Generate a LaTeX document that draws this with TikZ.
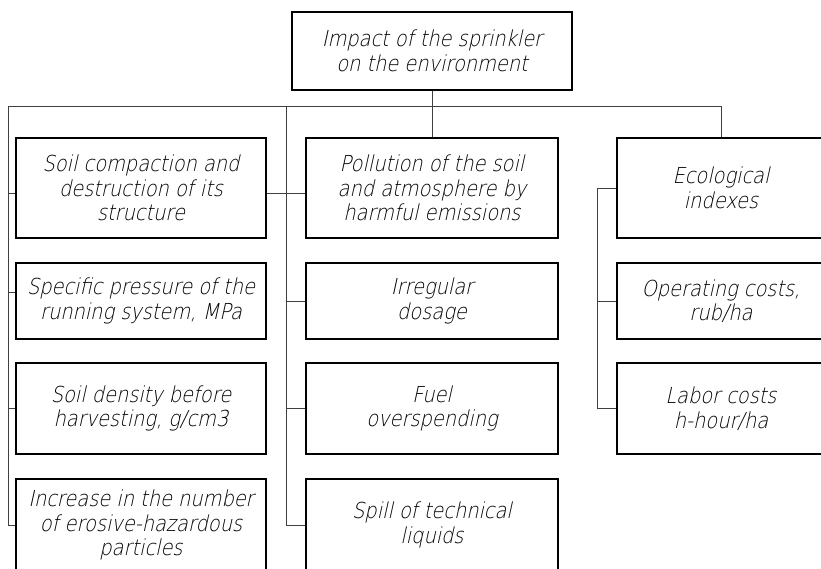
\documentclass[tikz,border=0pt]{standalone}
\usepackage{fontspec}
\IfFontExistsTF{DejaVu Sans ExtraLight}
  {\setmainfont{DejaVu Sans ExtraLight}[FakeSlant=0.22,FakeStretch=0.88]}
  {\setmainfont{DejaVu Sans}[FakeSlant=0.22,FakeStretch=0.88]}
\begin{document}
\begin{tikzpicture}[x=1pt,y=-1pt,
  box/.style={draw=black,line width=1.4pt,align=center,inner sep=0pt,
    font=\fontsize{22}{24.5}\selectfont},
  conn/.style={draw=black!75,line width=0.6pt}]
\useasboundingbox (0,0) rectangle (821,568);
\clip (0,0) rectangle (821,568);
% boxes
\node[box,minimum width=280pt,minimum height=78pt] (top) at (432,51) {Impact of the sprinkler\\on the environment};
\node[box,minimum width=250pt,minimum height=100pt] (L1) at (141,188) {Soil compaction and\\destruction of its\\structure};
\node[box,minimum width=250pt,minimum height=76pt] (L2) at (141,301) {Specific pressure of the\\running system, MPa};
\node[box,minimum width=250pt,minimum height=91pt] (L3) at (141,408.5) {Soil density before\\harvesting, g/cm3};
\node[box,minimum width=250pt,minimum height=92pt] (L4) at (141,525) {Increase in the number\\of erosive-hazardous\\particles};
\node[box,minimum width=252pt,minimum height=100pt] (M1) at (432,188) {Pollution of the soil\\and atmosphere by\\harmful emissions};
\node[box,minimum width=252pt,minimum height=76pt] (M2) at (432,301) {Irregular\\dosage};
\node[box,minimum width=252pt,minimum height=91pt] (M3) at (432,408.5) {Fuel\\overspending};
\node[box,minimum width=252pt,minimum height=92pt] (M4) at (432,525) {Spill of technical\\liquids};
\node[box,minimum width=208pt,minimum height=100pt] (R1) at (721,188) {Ecological\\indexes};
\node[box,minimum width=208pt,minimum height=76pt] (R2) at (721,301) {Operating costs,\\rub/ha};
\node[box,minimum width=208pt,minimum height=91pt] (R3) at (721,408.5) {Labor costs\\h-hour/ha};
% bus
\coordinate (busL) at (8,106);
\coordinate (busM) at (286,106);
\coordinate (busR) at (721,106);
\coordinate (rv) at (597,188);
\draw[conn] (top.south) -- (top.south |- busL);
\draw[conn] (busL) -- (busR) -- (R1.north);
\draw[conn] (M1.north |- busL) -- (M1.north);
% left column
\draw[conn] (busL) |- (L4.west);
\draw[conn] ([yshift=-5pt]L1.west -| busL) -- ([yshift=-5pt]L1.west);
\draw[conn] ([yshift=9pt]L2.west -| busL) -- ([yshift=9pt]L2.west);
\draw[conn] (L3.west -| busL) -- (L3.west);
% middle column
\draw[conn] ([yshift=-5pt]L1.east) -- ([yshift=-5pt]M1.west);
\draw[conn] (busM) |- (M4.west);
\draw[conn] (M2.west -| busM) -- (M2.west);
\draw[conn] (M3.west -| busM) -- (M3.west);
% right column
\draw[conn] (R1.west) -- (rv) |- (R3.west);
\draw[conn] (R2.west -| rv) -- (R2.west);
\end{tikzpicture}
\end{document}
